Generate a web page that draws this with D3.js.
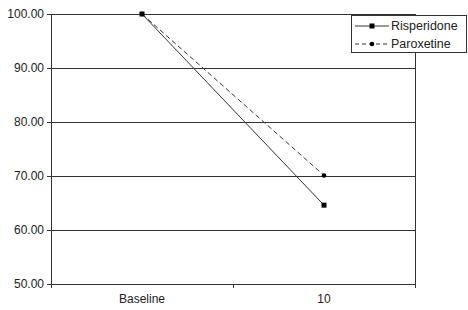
<!DOCTYPE html>
<html><head><meta charset="utf-8">
<script src="https://cdn.jsdelivr.net/npm/d3@7"></script>
<style>body{margin:0;background:#fff}svg{display:block}text{font-family:"Liberation Sans",Arial,sans-serif;font-size:12px;fill:#222}</style>
</head><body><svg width="468" height="310"></svg>
<script>
const categories = ["Baseline", "10"];
const risperidone = [100.0, 64.6];
const paroxetine = [100.0, 70.1];
const yTicks = [50, 60, 70, 80, 90, 100];
const seriesNames = ["Risperidone", "Paroxetine"];

const svg = d3.select("svg");
const m = {l: 51, r: 415, t: 14, b: 284};
const x = d3.scaleBand().domain(categories).range([m.l, m.r]);
const y = d3.scaleLinear().domain([50, 100]).range([m.b, m.t]);
const ink = "#333";

// gridlines
svg.append("g").selectAll("line").data(yTicks).join("line")
  .attr("x1", m.l).attr("x2", m.r).attr("y1", d => y(d)).attr("y2", d => y(d))
  .attr("stroke", ink).attr("stroke-width", 1).attr("shape-rendering", "crispEdges");
// right border
svg.append("line").attr("x1", m.r).attr("x2", m.r).attr("y1", m.t).attr("y2", m.b)
  .attr("stroke", ink).attr("shape-rendering", "crispEdges");

// y axis
const ya = svg.append("g").attr("transform", `translate(${m.l},0)`)
  .call(d3.axisLeft(y).tickValues(yTicks).tickFormat(d3.format(".2f")).tickSize(4).tickSizeOuter(0));
ya.select(".domain").attr("stroke", ink).attr("shape-rendering", "crispEdges");
ya.selectAll(".tick line").attr("stroke", ink).attr("shape-rendering", "crispEdges");
ya.selectAll("text").attr("x", -7).style("font-size", "12px").attr("fill", "#222");

// x axis
const xa = svg.append("g").attr("transform", `translate(0,${m.b})`)
  .call(d3.axisBottom(x).tickSize(0).tickSizeOuter(0));
xa.select(".domain").attr("stroke", ink).attr("shape-rendering", "crispEdges");
xa.selectAll("text").attr("dy", "1.3em").style("font-size", "12px").attr("fill", "#222");
// category boundary ticks
const bounds = [m.l, ...categories.slice(1).map(c => x(c)), m.r];
xa.selectAll(".bt").data(bounds).join("line").attr("class", "bt")
  .attr("x1", d => d).attr("x2", d => d).attr("y1", 0).attr("y2", 4)
  .attr("stroke", ink).attr("shape-rendering", "crispEdges");

const cx = c => x(c) + x.bandwidth() / 2;
const line = d3.line().x((d, i) => cx(categories[i])).y(d => y(d));

// paroxetine dashed
svg.append("path").datum(paroxetine).attr("d", line).attr("fill", "none")
  .attr("stroke", ink).attr("stroke-width", 1).attr("stroke-dasharray", "5,3");
svg.append("g").selectAll("circle").data(paroxetine).join("circle")
  .attr("cx", (d, i) => cx(categories[i])).attr("cy", d => y(d)).attr("r", 2.3).attr("fill", "#000");

// risperidone solid
svg.append("path").datum(risperidone).attr("d", line).attr("fill", "none")
  .attr("stroke", ink).attr("stroke-width", 1);
svg.append("g").selectAll("rect").data(risperidone).join("rect")
  .attr("x", (d, i) => cx(categories[i]) - 2.5).attr("y", d => y(d) - 2.5)
  .attr("width", 5).attr("height", 5).attr("fill", "#000");

// legend
const lg = svg.append("g");
lg.append("rect").attr("x", 351.5).attr("y", 15.5).attr("width", 115).attr("height", 37)
  .attr("fill", "#fff").attr("stroke", ink);
const rows = [{name: seriesNames[0], dash: null, y: 26, sym: "sq"}, {name: seriesNames[1], dash: "4,3", y: 44, sym: "di"}];
rows.forEach(r => {
  lg.append("line").attr("x1", 355).attr("x2", 389).attr("y1", r.y).attr("y2", r.y)
    .attr("stroke", ink).attr("stroke-dasharray", r.dash);
  if (r.sym === "sq") lg.append("rect").attr("x", 369.5).attr("y", r.y - 2.5).attr("width", 5).attr("height", 5).attr("fill", "#000");
  else lg.append("circle").attr("cx", 372).attr("cy", r.y).attr("r", 2.3).attr("fill", "#000");
  lg.append("text").attr("x", 391).attr("y", r.y).attr("dy", "0.35em").text(r.name).style("font-size", "12.5px");
});
</script></body></html>
